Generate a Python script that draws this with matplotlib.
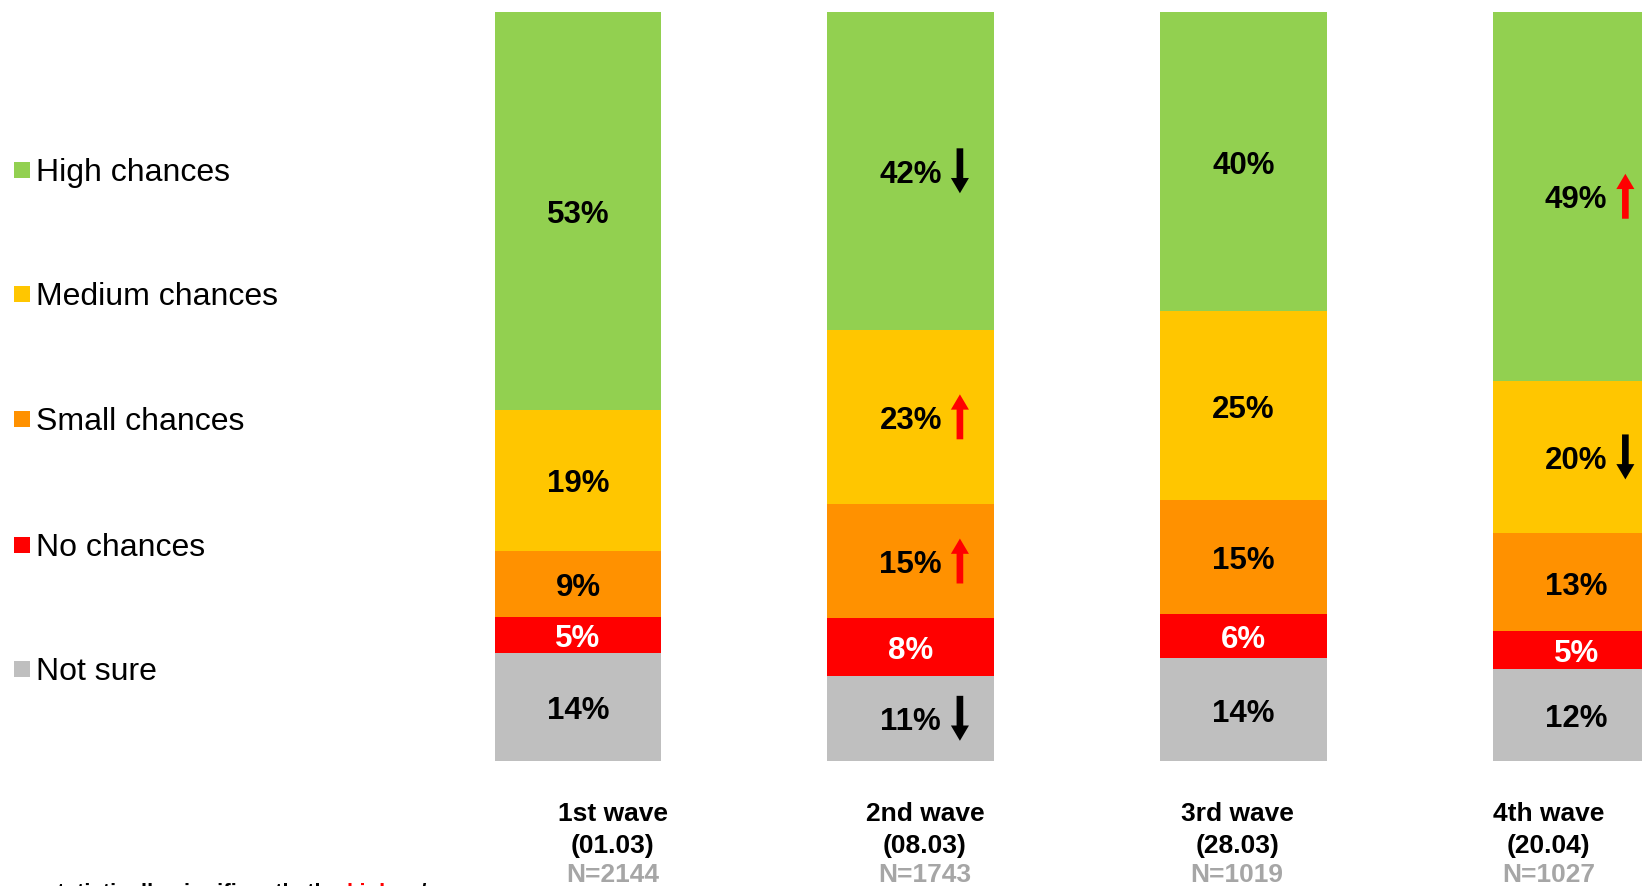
import matplotlib
matplotlib.use("Agg")
import matplotlib.pyplot as plt
from matplotlib.patches import Rectangle
from matplotlib.transforms import blended_transform_factory, offset_copy

plt.rcParams["font.family"] = ["Liberation Sans", "DejaVu Sans"]

# survey waves
waves = ["1st wave", "2nd wave", "3rd wave", "4th wave"]
dates = ["(01.03)", "(08.03)", "(28.03)", "(20.04)"]
sample_sizes = [2144, 1743, 1019, 1027]

# shares per answer, bottom to top of each stack (%)
categories = ["Not sure", "No chances", "Small chances", "Medium chances", "High chances"]
not_sure = [14.4, 11.4, 13.7, 12.3]
no_chances = [4.8, 7.7, 5.9, 5.0]
small_chances = [8.9, 15.2, 15.2, 13.1]
medium_chances = [18.8, 23.3, 25.3, 20.4]
high_chances = [53.1, 42.4, 39.9, 49.2]

# significant changes vs previous wave: (wave index, category index, +1 up / -1 down)
changes = [
    (1, 4, -1), (1, 3, +1), (1, 2, +1), (1, 0, -1),
    (3, 4, +1), (3, 3, -1),
]

colors = ["#BFBFBF", "#FF0000", "#FF9100", "#FFC600", "#92D050"]
label_colors = ["black", "white", "black", "black", "black"]

series = [not_sure, no_chances, small_chances, medium_chances, high_chances]

W, H = 1642, 886
fig = plt.figure(figsize=(W / 100, H / 100), dpi=100)
ax = fig.add_axes([0, (H - 761) / H, 1, (761 - 12) / H])
ax.set_xlim(-1.737, 3.198)
ax.set_ylim(0, 100)
ax.axis("off")

# nudge text a few pixels down so glyphs sit optically centred
lbl_trans = offset_copy(ax.transData, fig=fig, x=0, y=-3, units="points")

x = range(len(waves))
bottoms = [0.0] * len(waves)
centers = []
for vals, col, lcol in zip(series, colors, label_colors):
    ax.bar(x, vals, bottom=bottoms, width=0.5, color=col, linewidth=0)
    mids = []
    for i, v in enumerate(vals):
        yc = bottoms[i] + v / 2
        mids.append(yc)
        ax.text(i, yc, f"{v:.0f}%", ha="center", va="center", transform=lbl_trans,
                fontsize=22.5, fontweight="bold", color=lcol)
    centers.append(mids)
    bottoms = [b + v for b, v in zip(bottoms, vals)]

for wi, ci, d in changes:
    yc = centers[ci][wi]
    ax.annotate("", xy=(wi + 0.148, yc + 3.0 * d), xytext=(wi + 0.148, yc - 3.0 * d),
                arrowprops=dict(arrowstyle="simple,head_length=0.55,head_width=0.65,tail_width=0.24",
                                color="#FF0000" if d > 0 else "black",
                                mutation_scale=20, shrinkA=0, shrinkB=0, lw=0))

# wave captions under the bars
trans = blended_transform_factory(ax.transData, fig.transFigure)
caption_x = [0.105, 1.043, 1.981, 2.918]
for cx, name, date, n in zip(caption_x, waves, dates, sample_sizes):
    ax.text(cx, (H - 814) / H, name, transform=trans, ha="center", va="center",
            fontsize=19, fontweight="bold")
    ax.text(cx, (H - 846) / H, date, transform=trans, ha="center", va="center",
            fontsize=19, fontweight="bold")
    ax.text(cx, (H - 875) / H, f"N={n}", transform=trans, ha="center", va="center",
            fontsize=19, fontweight="bold", color="#A6A6A6")

# legend on the left, top category first
legend_y = [169.6, 294.3, 418.9, 544.5, 669.2]
for yy, name, col in zip(legend_y, categories[::-1], colors[::-1]):
    fig.patches.append(Rectangle((13.5 / W, (H - yy - 8) / H), 16 / W, 16 / H,
                                 transform=fig.transFigure, color=col, lw=0))
    fig.text(36 / W, (H - yy - 3) / H, name, ha="left", va="center", fontsize=23)

# footnote, partly below the bottom edge
t1 = fig.text(45 / W, (H - 899) / H, "statistically significantly the ",
              ha="left", va="baseline", fontsize=16, fontweight="bold")
t2 = ax.annotate("higher", xy=(1, 0), xycoords=t1, ha="left", va="bottom",
                 fontsize=16, fontweight="bold", color="#FF0000", annotation_clip=False)
ax.annotate(" /", xy=(1, 0), xycoords=t2, ha="left", va="bottom",
            fontsize=16, fontweight="bold", annotation_clip=False)

fig.savefig("out.png", dpi=100)
